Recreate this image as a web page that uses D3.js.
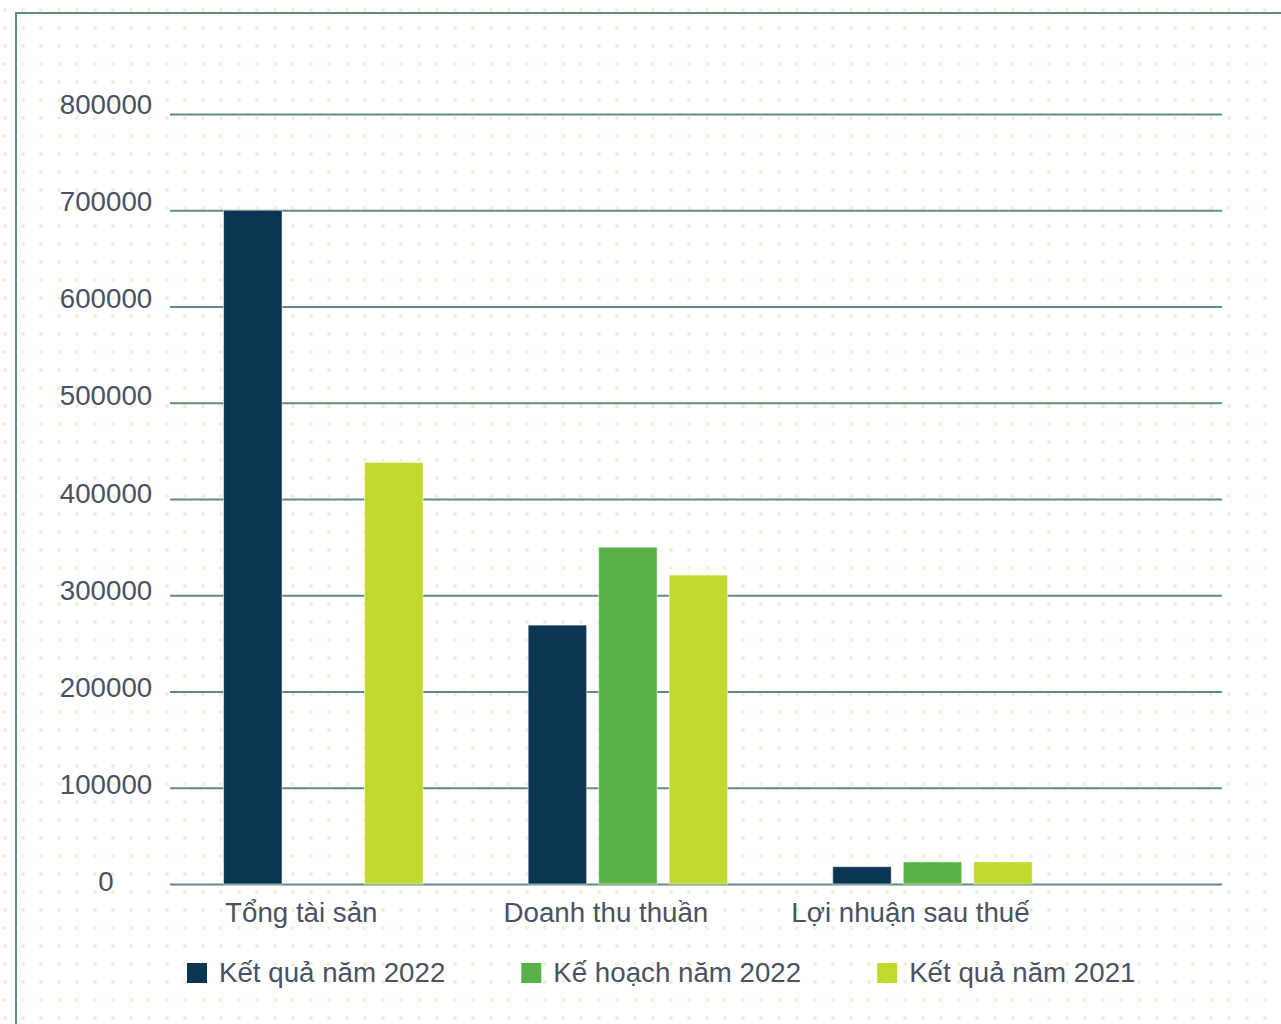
<!DOCTYPE html>
<html>
<head>
<meta charset="utf-8">
<script src="https://cdn.jsdelivr.net/npm/d3@7"></script>
<style>
  html, body { margin: 0; padding: 0; background: #fff; }
  svg { display: block; }
  text { font-family: "Liberation Sans", Arial, sans-serif; fill: #4a5163; }
</style>
</head>
<body>
<div class="canvas"></div>
<script>
// chart data
const categories = ['Tổng tài sản', 'Doanh thu thuần', 'Lợi nhuận sau thuế'];
const seriesNames = ['Kết quả năm 2022', 'Kế hoạch năm 2022', 'Kết quả năm 2021'];
const ketQua2022 = [700000, 269000, 18000];
const keHoach2022 = [null, 350000, 23000];
const ketQua2021 = [438000, 321000, 23000];
const seriesValues = [ketQua2022, keHoach2022, ketQua2021];
const colors = ['#0a3553', '#59b147', '#c3d82e'];

const dim = { width: 1281, height: 1024 };
const plot = { left: 170, right: 1222, top: 114, bottom: 884 };
const fontSize = 27.7;

const svg = d3.select('.canvas').append('svg')
    .attr('width', dim.width)
    .attr('height', dim.height);

// dotted background
const defs = svg.append('defs');
const pat = defs.append('pattern')
    .attr('id', 'dots')
    .attr('patternUnits', 'userSpaceOnUse')
    .attr('x', -4).attr('y', 1)
    .attr('width', 18).attr('height', 18);
pat.append('circle')
    .attr('cx', 9).attr('cy', 9).attr('r', 2.1)
    .attr('fill', '#eef2d7');

svg.append('rect')
    .attr('width', dim.width).attr('height', dim.height)
    .attr('fill', 'url(#dots)');

// frame lines (top + left)
svg.append('path')
    .attr('d', `M16,${dim.height} V13 H${dim.width}`)
    .attr('fill', 'none')
    .attr('stroke', '#5e8f74')
    .attr('stroke-width', 2);

// scales
const y = d3.scaleLinear()
    .domain([0, 800000])
    .range([plot.bottom, plot.top]);

const x0 = d3.scaleBand()
    .domain(categories)
    .range([171, 1084.8])
    .padding(0);

const innerStep = 70.5;
const x1 = d3.scaleBand()
    .domain(seriesNames)
    .range([x0.bandwidth() / 2 - 1.5 * innerStep, x0.bandwidth() / 2 + 1.5 * innerStep])
    .paddingInner(1 - 58.5 / innerStep)
    .paddingOuter((1 - 58.5 / innerStep) / 2);

// grid + y tick labels
const yAxis = d3.axisLeft(y)
    .ticks(8)
    .tickFormat(d3.format('d'))
    .tickSizeInner(-(plot.right - plot.left))
    .tickSizeOuter(0)
    .tickPadding(0);

const axisG = svg.append('g')
    .attr('transform', `translate(${plot.left},0)`)
    .call(yAxis);

axisG.select('.domain').remove();
axisG.selectAll('.tick line')
    .attr('stroke', '#5f8f76')
    .attr('stroke-width', 2);
// labels sit a little above their line, a bit more so towards the top
axisG.selectAll('.tick text')
    .attr('x', 106 - plot.left)
    .attr('y', d => -2 - 7.5 * d / 800000)
    .attr('text-anchor', 'middle')
    .style('font-size', fontSize + 'px')
    .style('fill', '#4a5163');
axisG.attr('font-family', null).attr('font-size', null);

// bars
const barData = [];
categories.forEach((c, ci) => {
    seriesNames.forEach((s, si) => {
        const v = seriesValues[si][ci];
        if (v != null) barData.push({ cat: c, series: s, value: v, color: colors[si] });
    });
});

svg.append('g').selectAll('rect')
    .data(barData)
    .enter().append('rect')
    .attr('x', d => x0(d.cat) + x1(d.series))
    .attr('y', d => y(d.value))
    .attr('width', x1.bandwidth())
    .attr('height', d => y(0) - y(d.value))
    .attr('fill', d => d.color)
    .attr('stroke', 'rgba(255,255,255,0.55)')
    .attr('stroke-width', 1);

// category labels
svg.append('g').selectAll('text')
    .data(categories)
    .enter().append('text')
    .attr('x', d => x0(d) + x0.bandwidth() / 2 - 22)
    .attr('y', 922)
    .attr('text-anchor', 'middle')
    .style('font-size', fontSize + 'px')
    .text(d => d);

// legend, laid out one item after another
const legendG = svg.append('g');
let lx = 187;
seriesNames.forEach((s, i) => {
    legendG.append('rect')
        .attr('x', lx).attr('y', 963)
        .attr('width', 20).attr('height', 20)
        .attr('fill', colors[i]);
    const t = legendG.append('text')
        .attr('x', lx + 32)
        .attr('y', 982)
        .style('font-size', fontSize + 'px')
        .text(s);
    lx += 32 + t.node().getComputedTextLength() + 76;
});
</script>
</body>
</html>
